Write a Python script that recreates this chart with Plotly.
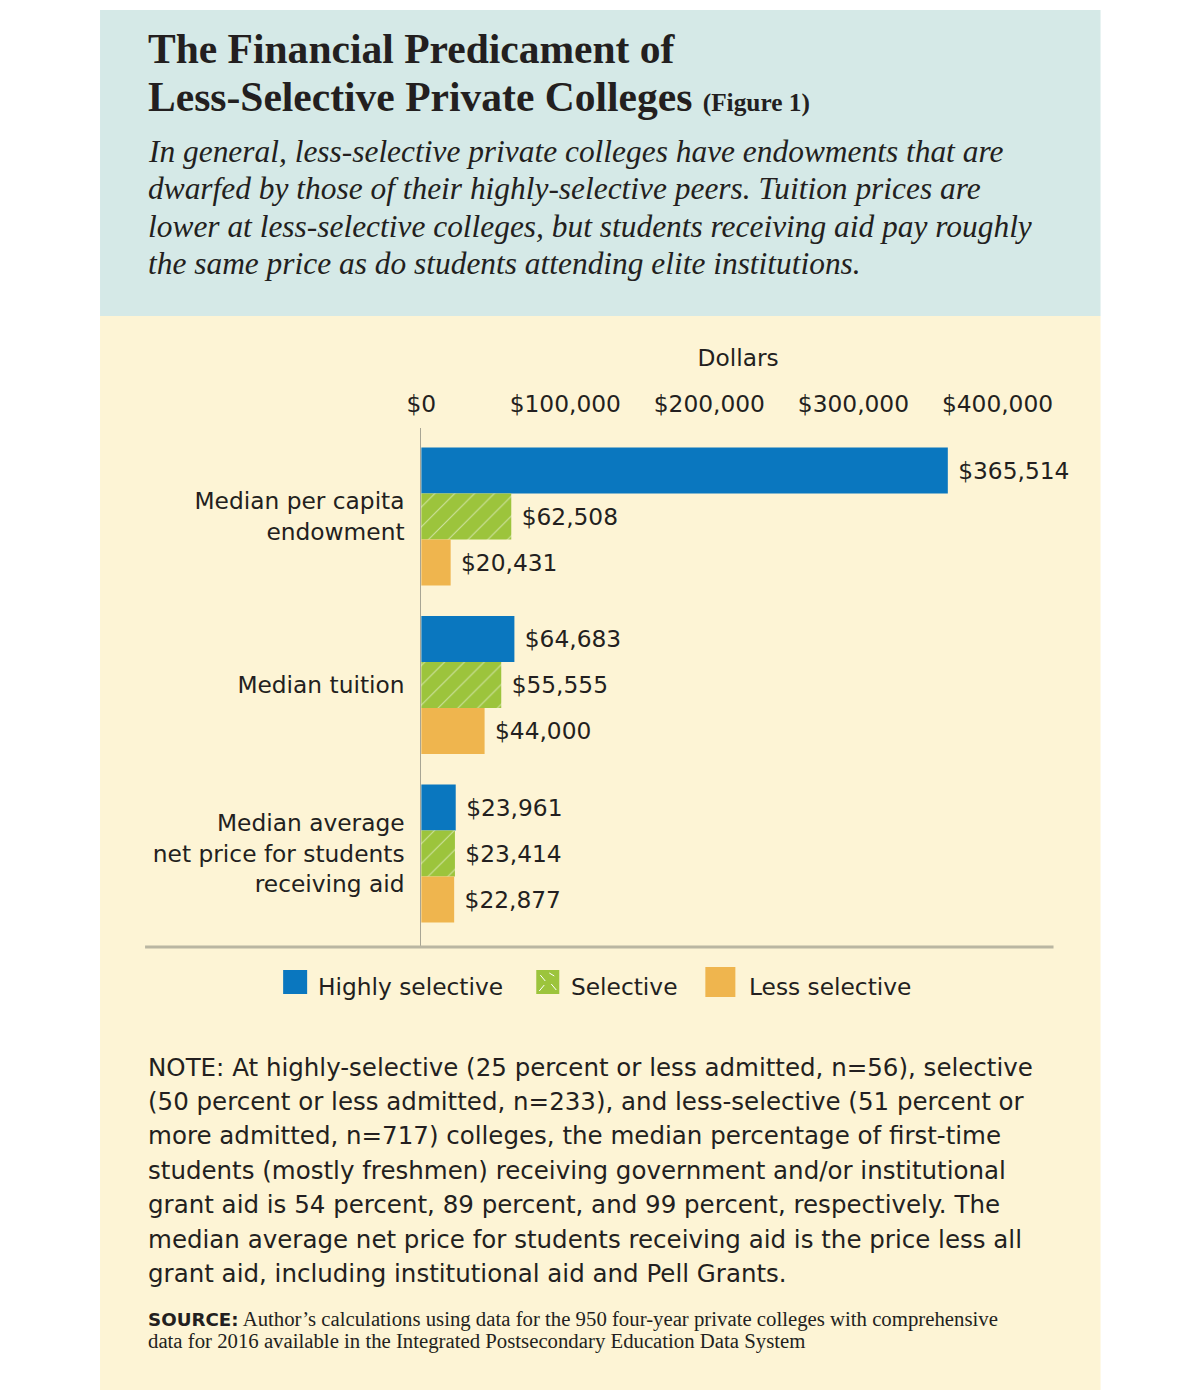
import plotly.graph_objects as go

# ---------------- data ----------------
categories = ["Median per capita<br>endowment", "Median tuition",
              "Median average<br>net price for students<br>receiving aid"]
series_names = ["Highly selective", "Selective", "Less selective"]
highly_selective = [365514, 64683, 23961]
selective = [62508, 55555, 23414]
less_selective = [20431, 44000, 22877]
x_tick_values = [0, 100000, 200000, 300000, 400000]
x_tick_labels = ["$0", "$100,000", "$200,000", "$300,000", "$400,000"]

title_line1 = "The Financial Predicament of"
title_line2 = "Less-Selective Private Colleges"
title_fig = "(Figure 1)"
subtitle_lines = [
    "In general, less-selective private colleges have endowments that are",
    "dwarfed by those of their highly-selective peers. Tuition prices are",
    "lower at less-selective colleges, but students receiving aid pay roughly",
    "the same price as do students attending elite institutions.",
]
note_lines = [
    "NOTE: At highly-selective (25 percent or less admitted, n=56), selective",
    "(50 percent or less admitted, n=233), and less-selective (51 percent or",
    "more admitted, n=717) colleges, the median percentage of first-time",
    "students (mostly freshmen) receiving government and/or institutional",
    "grant aid is 54 percent, 89 percent, and 99 percent, respectively. The",
    "median average net price for students receiving aid is the price less all",
    "grant aid, including institutional aid and Pell Grants.",
]
source_label = "SOURCE:"
source_lines = [
    "Author\u2019s calculations using data for the 950 four-year private colleges with comprehensive",
    "data for 2016 available in the Integrated Postsecondary Education Data System",
]

# ---------------- style ----------------
W, H = 1200, 1400
BLUE = "#0a77bf"
GREEN = "#9cc43c"
ORANGE = "#efb54e"
TEXT = "#231f20"
TEAL_BG = "#d5e9e7"
CREAM_BG = "#fdf4d5"
SANS = "DejaVu Sans"
SERIF = "Liberation Serif"

# horizontal compensation for the capture (observed: out = 15 + 0.987 * x)
SX, OX = 0.987, 15.0
FS = 1.0 / SX

PLOT_L, PLOT_R, PLOT_T, PLOT_B = 421, 1054.6, 428, 947


def px(x):
    return ((x - OX) / SX) / W


def py(y):
    return 1 - y / H


def f(s):
    return round(s * FS, 2)


fig = go.Figure()
colors = [BLUE, GREEN, ORANGE]
values = [highly_selective, selective, less_selective]
for name, vals, col in zip(series_names, values, colors):
    marker = dict(color=col, line=dict(width=0))
    if name == "Selective":
        marker["pattern"] = dict(shape="/", fgcolor="white", size=14, solidity=0.08)
    fig.add_trace(go.Bar(
        name=name, y=categories, x=vals, orientation="h", marker=marker,
        texttemplate="\u00a0$%{x:,}", textposition="outside", cliponaxis=False,
        constraintext="none",
        textfont=dict(family=SANS, size=f(23), color=TEXT),
        showlegend=False, hoverinfo="skip",
    ))

fig.update_layout(
    width=W, height=H, margin=dict(l=0, r=0, t=0, b=0, pad=0),
    paper_bgcolor="white", plot_bgcolor="rgba(0,0,0,0)",
    barmode="group", bargap=0.181, bargroupgap=0,
    font=dict(family=SANS, color=TEXT, size=f(23)),
    xaxis=dict(
        domain=[px(PLOT_L), px(PLOT_R)], range=[0, 440000], side="top",
        tickvals=x_tick_values, ticktext=x_tick_labels,
        showgrid=False, zeroline=False, showline=False, ticks="",
        ticklabelstandoff=10,
        tickfont=dict(family=SANS, size=f(23), color=TEXT),
        title=dict(text="Dollars", font=dict(family=SANS, size=f(23), color=TEXT), standoff=17),
        fixedrange=True,
    ),
    yaxis=dict(
        domain=[py(PLOT_B), py(PLOT_T)], range=[2.555, -0.525],
        showgrid=False, zeroline=False, showline=True, linecolor="#a8a594", linewidth=1,
        ticks="", ticklabelstandoff=11,
        tickfont=dict(family=SANS, size=f(23), color=TEXT),
        fixedrange=True,
    ),
)

shapes = [
    dict(type="rect", xref="paper", yref="paper", x0=px(100), x1=px(1100), y0=py(10), y1=py(316),
         fillcolor=TEAL_BG, line=dict(width=0), layer="below"),
    dict(type="rect", xref="paper", yref="paper", x0=px(100), x1=px(1100), y0=py(316), y1=py(1390),
         fillcolor=CREAM_BG, line=dict(width=0), layer="below"),
    dict(type="line", xref="paper", yref="paper", x0=px(145), x1=px(1053), y0=py(947), y1=py(947),
         line=dict(color="#bab6a2", width=3), layer="above"),
]

# manual legend
legend_items = [
    (BLUE, 283, 307, 970, 994, 316, series_names[0]),
    (GREEN, 536, 559, 970, 994, 569, series_names[1]),
    (ORANGE, 705, 735, 967, 997, 747, series_names[2]),
]
annotations = []
for col, x0, x1, y0, y1, tx, label in legend_items:
    shapes.append(dict(type="rect", xref="paper", yref="paper", x0=px(x0), x1=px(x1),
                       y0=py(y0), y1=py(y1), fillcolor=col, line=dict(width=0)))
    annotations.append(dict(xref="paper", yref="paper", x=px(tx), y=py(986), text=label,
                            showarrow=False, xanchor="left", yanchor="middle",
                            font=dict(family=SANS, size=f(23), color=TEXT)))
# texture strokes on selective legend swatch
for (a, b, c, d) in [(540, 975, 545, 981), (549, 973, 554, 976), (544, 985, 539, 991), (551, 984, 556, 990)]:
    shapes.append(dict(type="line", xref="paper", yref="paper", x0=px(a), x1=px(c), y0=py(b), y1=py(d),
                       line=dict(color="white", width=1)))

# title
annotations.append(dict(xref="paper", yref="paper", x=px(146), y=py(49), text="<b>" + title_line1 + "</b>",
                        showarrow=False, xanchor="left", yanchor="middle",
                        font=dict(family=SERIF, size=f(41), color=TEXT)))
annotations.append(dict(xref="paper", yref="paper", x=px(146), y=py(97),
                        text="<b>" + title_line2 + "</b> <b><span style='font-size:" + str(f(25)) + "px'>" +
                             title_fig + "</span></b>",
                        showarrow=False, xanchor="left", yanchor="middle",
                        font=dict(family=SERIF, size=f(41), color=TEXT)))
for i, line in enumerate(subtitle_lines):
    annotations.append(dict(xref="paper", yref="paper", x=px(146), y=py(151 + i * 37.5),
                            text="<i>" + line + "</i>", showarrow=False, xanchor="left", yanchor="middle",
                            font=dict(family=SERIF, size=f(31), color=TEXT)))
for i, line in enumerate(note_lines):
    annotations.append(dict(xref="paper", yref="paper", x=px(146), y=py(1067 + i * 34.4),
                            text=line, showarrow=False, xanchor="left", yanchor="middle",
                            font=dict(family=SANS, size=f(24.2), color=TEXT)))
annotations.append(dict(xref="paper", yref="paper", x=px(146), y=py(1319),
                        text="<b><span style='font-family:DejaVu Sans;font-size:" + str(f(18)) + "px'>" +
                             source_label + "</span></b> " + source_lines[0],
                        showarrow=False, xanchor="left", yanchor="middle",
                        font=dict(family=SERIF, size=f(20.5), color=TEXT)))
annotations.append(dict(xref="paper", yref="paper", x=px(146), y=py(1341), text=source_lines[1],
                        showarrow=False, xanchor="left", yanchor="middle",
                        font=dict(family=SERIF, size=f(20.5), color=TEXT)))

fig.update_layout(shapes=shapes, annotations=annotations)
fig.write_html(
    "out.html",
    config={"displayModeBar": False},
    post_script=(
        "document.documentElement.style.margin='0';document.documentElement.style.overflow='hidden';"
        "document.body.style.margin='0';document.body.style.padding='0';document.body.style.overflow='hidden';"
    ),
)
